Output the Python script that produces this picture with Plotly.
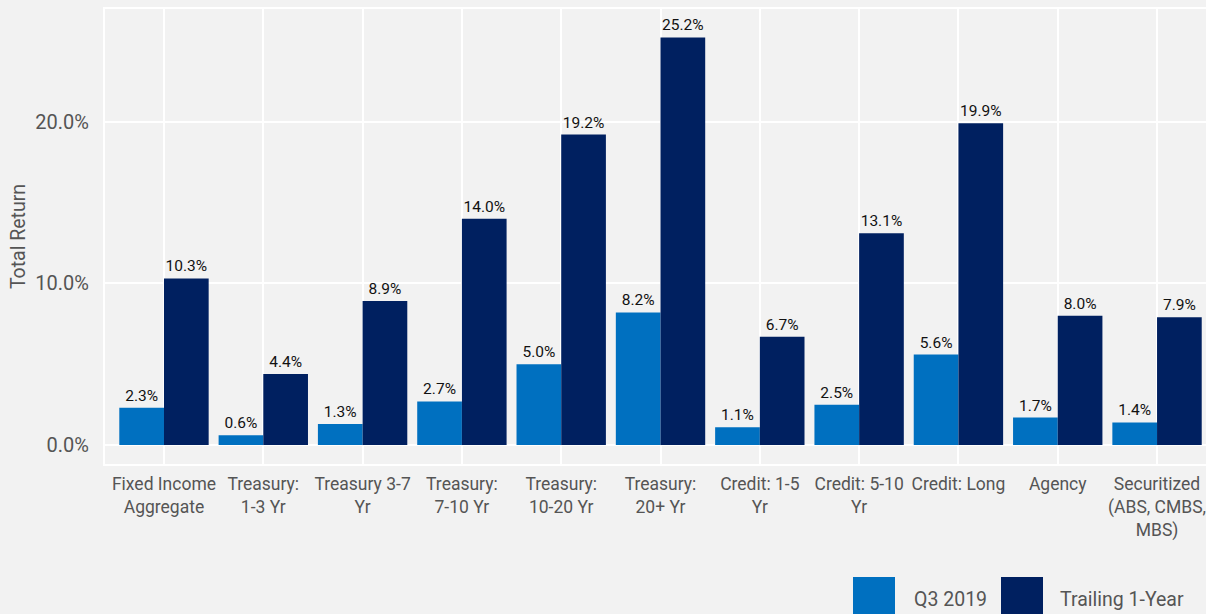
import plotly.graph_objects as go

categories = [
    "Fixed Income<br>Aggregate", "Treasury:<br>1-3 Yr", "Treasury 3-7<br>Yr", "Treasury:<br>7-10 Yr",
    "Treasury:<br>10-20 Yr", "Treasury:<br>20+ Yr", "Credit: 1-5<br>Yr", "Credit: 5-10<br>Yr",
    "Credit: Long", "Agency", "Securitized<br>(ABS, CMBS,<br>MBS)",
]
q3_2019 = [2.3, 0.6, 1.3, 2.7, 5.0, 8.2, 1.1, 2.5, 5.6, 1.7, 1.4]
trailing_1y = [10.3, 4.4, 8.9, 14.0, 19.2, 25.2, 6.7, 13.1, 19.9, 8.0, 7.9]
series_names = ["Q3 2019", "Trailing 1-Year"]
series_colors = ["#0070C0", "#002060"]
y_tickvals = [0, 10, 20]
y_ticktext = ["0.0%", "10.0%", "20.0%"]

FONT = "Roboto, Liberation Sans, sans-serif"
W, H = 1206, 614
L, R, T, B = 105, 0, 9, 150

fig = go.Figure()
for name, vals, col in zip(series_names, [q3_2019, trailing_1y], series_colors):
    fig.add_trace(go.Bar(
        x=list(range(len(categories))), y=vals, name=name, marker=dict(color=col, line=dict(width=0)),
        text=[f"{v:.1f}%" for v in vals], textposition="outside", constraintext="none",
        textfont=dict(family=FONT, size=15.5, color="#111111"), cliponaxis=False, showlegend=False,
    ))

def px_x(p):
    return (p - L) / (W - L - R)

def px_y(p):
    return (H - B - p) / (H - T - B)

# manual legend (large keys)
legend_specs = [(853, 895, 912), (1001, 1043, 1058)]
for (x0, x1, tx), name, col in zip(legend_specs, series_names, series_colors):
    fig.add_shape(type="rect", xref="paper", yref="paper", x0=px_x(x0), x1=px_x(x1),
                  y0=px_y(577), y1=px_y(625), fillcolor=col, line=dict(width=0), layer="above")
    fig.add_annotation(xref="paper", yref="paper", x=px_x(tx), y=px_y(599), text=name,
                       showarrow=False, xanchor="left", yanchor="middle",
                       font=dict(family=FONT, size=19.5, color="#555555"))

fig.update_layout(
    width=W, height=H, margin=dict(l=L, r=R, t=T, b=B),
    paper_bgcolor="#F2F2F2", plot_bgcolor="#F2F2F2",
    barmode="group", bargap=0.1, bargroupgap=0,
    font=dict(family=FONT, color="#555555"),
)
fig.update_xaxes(
    range=[-0.594, 10.493], tickvals=list(range(len(categories))), ticktext=categories,
    showgrid=True, gridcolor="white", gridwidth=2, zeroline=False,
    showline=True, mirror=True, linecolor="white", linewidth=2,
    tickfont=dict(family=FONT, size=17.5, color="#555555"), ticks="", tickangle=0, ticklabelstandoff=3,
)
fig.update_yaxes(
    range=[-1.17, 26.96], tickvals=y_tickvals, ticktext=y_ticktext,
    showgrid=True, gridcolor="white", gridwidth=2, zeroline=False,
    showline=True, mirror=False, linecolor="white", linewidth=2,
    tickfont=dict(family=FONT, size=20, color="#555555"), ticks="", ticklabelstandoff=10,
    title=dict(text="Total Return", font=dict(family=FONT, size=19.5, color="#555555"), standoff=5),
)
fig.write_html("out.html")
